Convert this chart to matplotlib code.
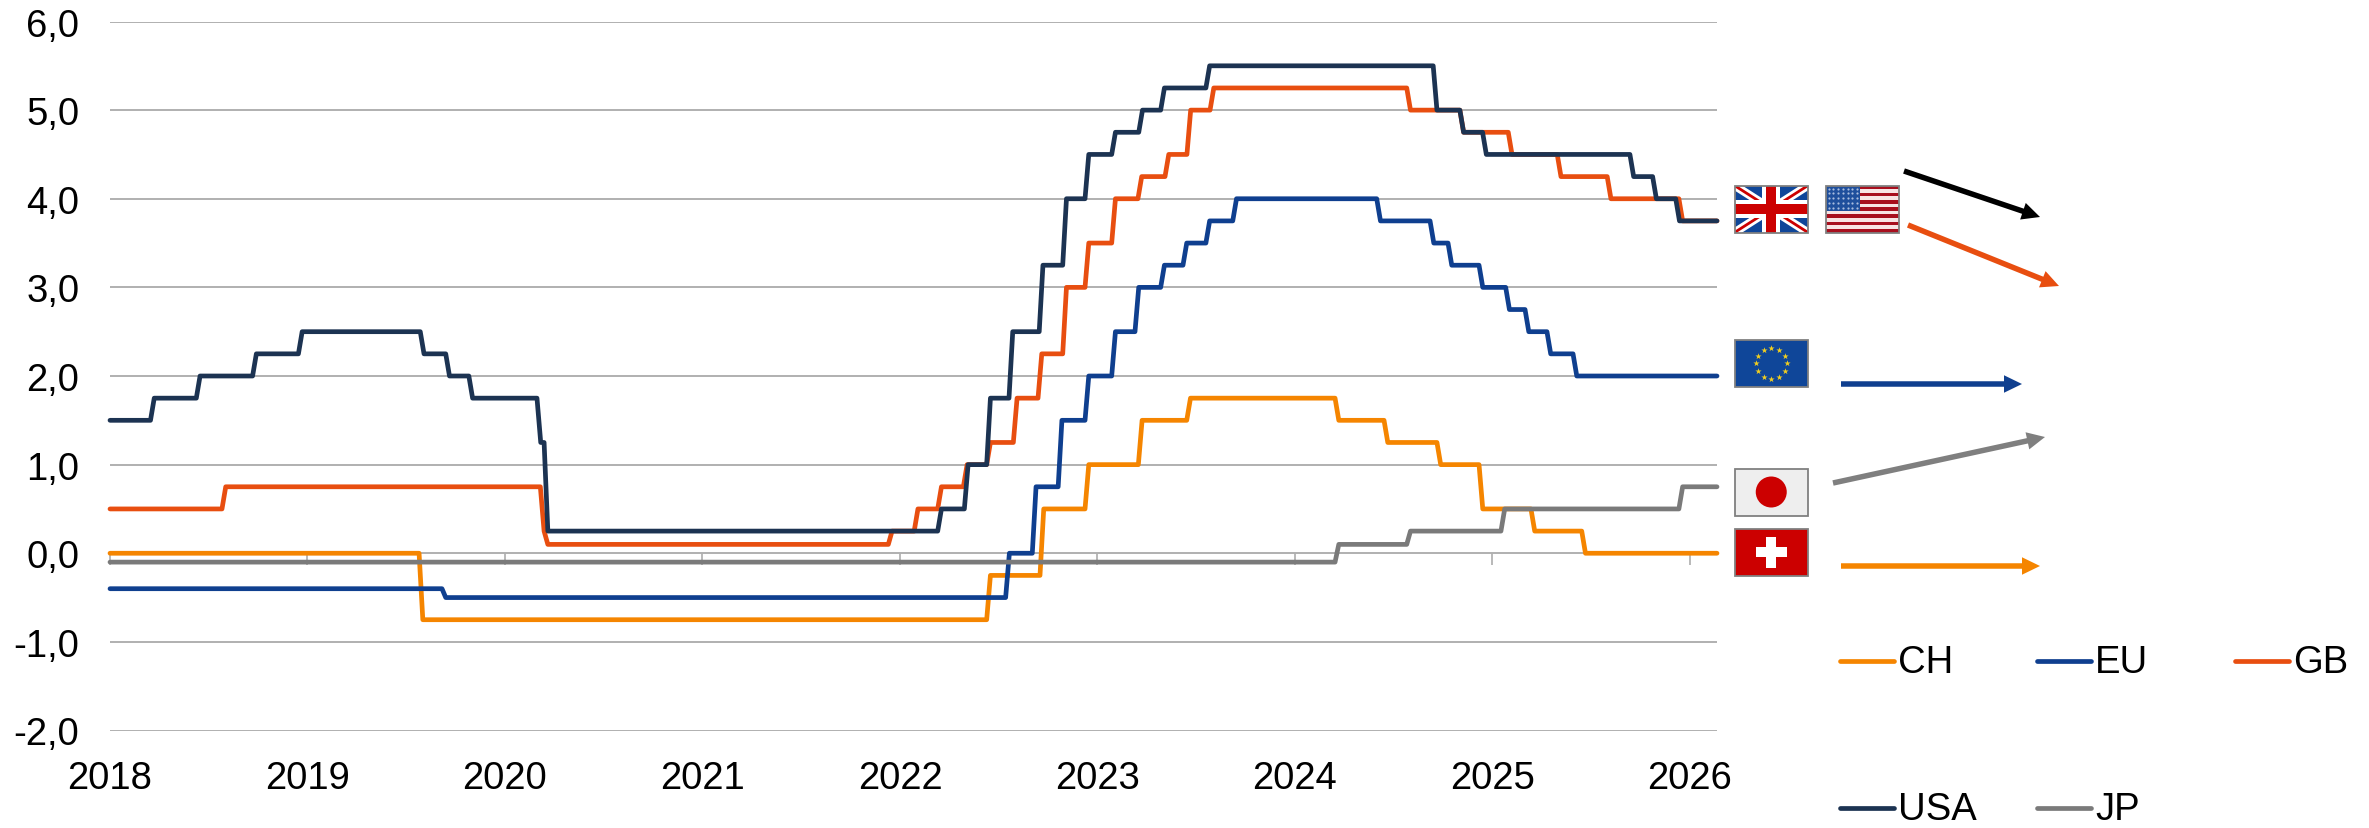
import numpy as np
import matplotlib
matplotlib.use("Agg")
import matplotlib.pyplot as plt
from matplotlib.patches import Rectangle, Circle
from matplotlib.lines import Line2D

plt.rcParams['font.family'] = ['Liberation Sans', 'DejaVu Sans']

W, H = 2369, 829
YEARS = list(range(2018, 2027))
Y_TICKS = [-2, -1, 0, 1, 2, 3, 4, 5, 6]
Y_LABELS = ['-2,0', '-1,0', '0,0', '1,0', '2,0', '3,0', '4,0', '5,0', '6,0']
X_START, X_END = 2018.0, 2026.137
RAMP = 0.019  # one weekly observation
FS = 27.5

# Change dates (decimal years) and the level reached after each change
ch_t = [2019.565, 2022.439, 2022.709, 2022.937, 2023.207, 2023.452, 2024.203, 2024.451, 2024.719, 2024.932, 2025.195, 2025.452]
ch_v = [0, -0.75, -0.25, 0.5, 1.0, 1.5, 1.75, 1.5, 1.25, 1.0, 0.5, 0.25, 0]

eu_t = [2019.681, 2022.535, 2022.670, 2022.801, 2022.937, 2023.072, 2023.190, 2023.320, 2023.433, 2023.549, 2023.685,
        2024.414, 2024.684, 2024.775, 2024.932, 2025.067, 2025.165, 2025.276, 2025.408]
eu_v = [-0.4, -0.5, 0, 0.75, 1.5, 2.0, 2.5, 3.0, 3.25, 3.5, 3.75, 4.0,
        3.75, 3.5, 3.25, 3.0, 2.75, 2.5, 2.25, 2.0]

gb_t = [2018.567, 2020.179, 2020.198, 2021.941, 2022.072, 2022.191, 2022.321, 2022.439, 2022.574, 2022.699, 2022.824,
        2022.937, 2023.072, 2023.205, 2023.342, 2023.453, 2023.570, 2024.566, 2024.835, 2025.080, 2025.328, 2025.581, 2025.944]
gb_v = [0.5, 0.75, 0.25, 0.1, 0.25, 0.5, 0.75, 1.0, 1.25, 1.75, 2.25, 3.0,
        3.5, 4.0, 4.25, 4.5, 5.0, 5.25, 5.0, 4.75, 4.5, 4.25, 4.0, 3.75]

us_t = [2018.205, 2018.437, 2018.722, 2018.954, 2019.571, 2019.700, 2019.817, 2020.162, 2020.198, 2022.191, 2022.326,
        2022.439, 2022.552, 2022.705, 2022.824, 2022.937, 2023.072, 2023.209, 2023.320, 2023.549, 2024.700, 2024.835,
        2024.950, 2025.696, 2025.811, 2025.928]
us_v = [1.5, 1.75, 2.0, 2.25, 2.5, 2.25, 2.0, 1.75, 1.25, 0.25, 0.5, 1.0,
        1.75, 2.5, 3.25, 4.0, 4.5, 4.75, 5.0, 5.25, 5.5, 5.0, 4.75, 4.5, 4.25, 4.0, 3.75]

jp_t = [2024.203, 2024.566, 2025.043, 2025.944]
jp_v = [-0.1, 0.1, 0.25, 0.5, 0.75]

SERIES = [
    ('CH', ch_t, ch_v, '#f58500'),
    ('EU', eu_t, eu_v, '#0f3f8f'),
    ('GB', gb_t, gb_v, '#e84e10'),
    ('USA', us_t, us_v, '#1c3352'),
    ('JP', jp_t, jp_v, '#7a7a7a'),
]


def steps(t, v):
    xs, ys = [X_START], [v[0]]
    for i, ti in enumerate(t):
        xs += [ti, ti + RAMP]
        ys += [v[i], v[i + 1]]
    xs.append(X_END)
    ys.append(v[-1])
    return xs, ys


fig = plt.figure(figsize=(W / 100, H / 100), dpi=100, facecolor='white')
ax = fig.add_axes([110 / W, 1 - 731.5 / H, (1717 - 110) / W, (731.5 - 22.5) / H])
ax.set_xlim(X_START, X_END)
ax.set_ylim(-2, 6)
ax.set_yticks(Y_TICKS, Y_LABELS)
ax.set_xticks(YEARS, [str(y) for y in YEARS])
ax.grid(axis='y', color='#b0b0b0', lw=1.4)
ax.set_axisbelow(True)
for s in ax.spines.values():
    s.set_visible(False)
ax.tick_params(axis='y', length=0, pad=22, labelsize=FS, labelcolor='black')
ax.tick_params(axis='x', length=0, pad=21, labelsize=FS, labelcolor='black')

sec = ax.secondary_xaxis(0.25)
sec.set_xticks(YEARS)
sec.set_xticklabels([])
sec.tick_params(axis='x', length=8.6, width=1.1, color='#a6a6a6')
sec.spines['bottom'].set_visible(False)

for name, t, v, c in SERIES:
    xs, ys = steps(t, v)
    ax.plot(xs, ys, color=c, lw=3.4, solid_joinstyle='round', solid_capstyle='round', clip_on=False, label=name)

# Overlay in pixel coordinates for legend, flags and arrows
ov = fig.add_axes([0, 0, 1, 1], facecolor='none')
ov.set_xlim(0, W)
ov.set_ylim(H, 0)
ov.axis('off')

# Legend
LEGEND_POS = {'CH': (1840, 662), 'EU': (2037, 662), 'GB': (2235, 662), 'USA': (1840, 809), 'JP': (2037, 809)}
for name, t, v, c in SERIES:
    lx, ly = LEGEND_POS[name]
    ov.add_line(Line2D([lx, lx + 54], [ly, ly], color=c, lw=3.4, solid_capstyle='round'))
    ov.text(lx + 58, ly + 1, name, fontsize=FS, va='center', ha='left', color='black')


def frame(x0, y0, x1, y1):
    ov.add_patch(Rectangle((x0, y0), x1 - x0, y1 - y0, fill=False, ec='#808080', lw=1.3, zorder=9))


def clip_rect(x0, y0, x1, y1):
    return Rectangle((x0, y0), x1 - x0, y1 - y0, transform=ov.transData)


def uk(x0, y0, x1, y1):
    cp = clip_rect(x0, y0, x1, y1)
    ov.add_patch(Rectangle((x0, y0), x1 - x0, y1 - y0, fc='#0f4699', ec='none', zorder=3))
    xc, yc = (x0 + x1) / 2, (y0 + y1) / 2
    for xs, ys in (([x0, x1], [y0, y1]), ([x0, x1], [y1, y0])):
        ov.plot(xs, ys, color='white', lw=6, zorder=4, solid_capstyle='butt')[0].set_clip_path(cp)
        ov.plot(xs, ys, color='#cc0000', lw=2, zorder=5, solid_capstyle='butt')[0].set_clip_path(cp)
    ov.add_patch(Rectangle((x0, yc - 9), x1 - x0, 18, fc='white', ec='none', zorder=6))
    ov.add_patch(Rectangle((xc - 9, y0), 18, y1 - y0, fc='white', ec='none', zorder=6))
    ov.add_patch(Rectangle((x0, yc - 5), x1 - x0, 10, fc='#cc0000', ec='none', zorder=7))
    ov.add_patch(Rectangle((xc - 5, y0), 10, y1 - y0, fc='#cc0000', ec='none', zorder=7))
    frame(x0, y0, x1, y1)


def us(x0, y0, x1, y1):
    h = (y1 - y0) / 13
    for i in range(13):
        ov.add_patch(Rectangle((x0, y0 + i * h), x1 - x0, h, fc='#a80f1e' if i % 2 == 0 else '#f8e4e4', ec='none', zorder=3))
    cw, ch_ = (x1 - x0) * 0.47, h * 7
    ov.add_patch(Rectangle((x0, y0), cw, ch_, fc='#1f4f9c', ec='none', zorder=4))
    gx, gy = np.meshgrid(np.linspace(x0 + 3, x0 + cw - 3, 7), np.linspace(y0 + 3, y0 + ch_ - 3, 5))
    ov.scatter(gx.ravel(), gy.ravel(), s=2.5, c='#a9bddf', linewidths=0, zorder=5)
    frame(x0, y0, x1, y1)


def eu(x0, y0, x1, y1):
    ov.add_patch(Rectangle((x0, y0), x1 - x0, y1 - y0, fc='#0f4699', ec='none', zorder=3))
    xc, yc = (x0 + x1) / 2, (y0 + y1) / 2
    a = np.deg2rad(np.arange(0, 360, 30))
    ov.scatter(xc + 15.5 * np.sin(a), yc - 15.5 * np.cos(a), marker='*', s=22, c='#f2cf1f', linewidths=0, zorder=4)
    frame(x0, y0, x1, y1)


def jp(x0, y0, x1, y1):
    ov.add_patch(Rectangle((x0, y0), x1 - x0, y1 - y0, fc='#eeeeee', ec='none', zorder=3))
    ov.add_patch(Circle(((x0 + x1) / 2, (y0 + y1) / 2), 15.5, fc='#cc0000', ec='none', zorder=4))
    frame(x0, y0, x1, y1)


def chf(x0, y0, x1, y1):
    ov.add_patch(Rectangle((x0, y0), x1 - x0, y1 - y0, fc='#cc0000', ec='none', zorder=3))
    xc, yc = (x0 + x1) / 2, (y0 + y1) / 2
    ov.add_patch(Rectangle((xc - 15.5, yc - 5), 31, 10, fc='white', ec='none', zorder=4))
    ov.add_patch(Rectangle((xc - 5, yc - 15.5), 10, 31, fc='white', ec='none', zorder=4))
    frame(x0, y0, x1, y1)


uk(1734.5, 186.5, 1808, 233.5)
us(1825.5, 186.5, 1899, 233.5)
eu(1734.5, 340.5, 1808, 388)
jp(1734.5, 469.5, 1808, 516.5)
chf(1734.5, 529.5, 1808, 577)

# Trend arrows
ARROWS = [
    ((1904, 172), (2040, 218), 'black'),
    ((1908, 226), (2059, 287), '#e84e10'),
    ((1841, 385), (2022, 385), '#0f3f8f'),
    ((1833, 484), (2045, 438), '#7f7f7f'),
    ((1841, 567), (2040, 567), '#f58500'),
]
for (x0, y0), (x1, y1), c in ARROWS:
    ov.arrow(x0, y0, x1 - x0, y1 - y0, width=5.5, head_width=17.5, head_length=18,
             length_includes_head=True, fc=c, ec='none', zorder=3)

fig.savefig('out.png', dpi=100, facecolor='white')
